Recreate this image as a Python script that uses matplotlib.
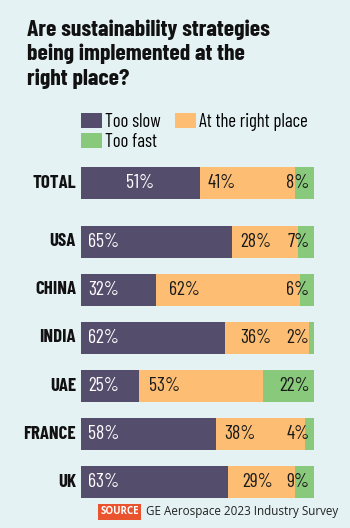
import numpy as np
import matplotlib
matplotlib.use("Agg")
import matplotlib.pyplot as plt

# data
countries = ["TOTAL", "USA", "CHINA", "INDIA", "UAE", "FRANCE", "UK"]
too_slow = [51, 65, 32, 62, 25, 58, 63]
right_place = [41, 28, 62, 36, 53, 38, 29]
too_fast = [8, 7, 6, 2, 22, 4, 9]
series_names = ["Too slow", "At the right place", "Too fast"]

title = "Are sustainability strategies\nbeing implemented at the\nright place?"
source_tag = "SOURCE"
source_text = "GE Aerospace 2023 Industry Survey"

# styling
BG = "#E5F2F4"
C_SLOW = "#544D6B"
C_RIGHT = "#FDBE74"
C_FAST = "#88C97B"
C_SRC = "#E9532D"
NARROW = ["Barlow Condensed", "DejaVu Sans"]

W, H = 350, 528
fig = plt.figure(figsize=(W / 100, H / 100), dpi=100, facecolor=BG)


def px(x, y):
    # pixel (from top-left) -> figure fraction
    return x / W, 1 - y / H


# bar area in pixels
bx0, bx1 = 81, 314
by0, by1 = 167, 498
ax = fig.add_axes([bx0 / W, 1 - by1 / H, (bx1 - bx0) / W, (by1 - by0) / H])
ax.set_facecolor(BG)

ypos = np.array([0.0] + [59 / 48 + i for i in range(len(countries) - 1)])
bh = 32 / 48
slow = np.array(too_slow)
right = np.array(right_place)
fast = np.array(too_fast)

b1 = ax.barh(ypos, slow, height=bh, color=C_SLOW, label=series_names[0])
b2 = ax.barh(ypos, right, left=slow, height=bh, color=C_RIGHT, label=series_names[1])
b3 = ax.barh(ypos, fast, left=slow + right, height=bh, color=C_FAST, label=series_names[2])

ax.set_xlim(0, 100)
ax.set_ylim(ypos[-1] + bh / 2, ypos[0] - bh / 2)
ax.axis("off")

pxu = 100 / (bx1 - bx0)  # data units per pixel
mid_off = [8, 8, 13, 15, 10, 8, 14]  # px offset of middle label from segment start
lab_fs = 14
for i, y in enumerate(ypos):
    if i == 0:
        ax.text(slow[i] / 2, y, f"{slow[i]}%", color="white", ha="center",
                va="center", fontsize=lab_fs, family=NARROW)
    else:
        ax.text(7 * pxu, y, f"{slow[i]}%", color="white", ha="left",
                va="center", fontsize=lab_fs, family=NARROW)
    ax.text(slow[i] + mid_off[i] * pxu, y, f"{right[i]}%", color="#1a1a1a",
            ha="left", va="center", fontsize=lab_fs, family=NARROW)
    ax.text(100 - 4.5 * pxu, y, f"{fast[i]}%", color="#1a1a1a", ha="right",
            va="center", fontsize=lab_fs, family=NARROW)
    ax.text(-5 * pxu, y, countries[i], color="#111111", ha="right",
            va="center", fontsize=13.5, fontweight="bold", family=NARROW)

# title
fig.text(*px(27, 19), title, ha="left", va="top", fontsize=17,
         fontweight="bold", family=NARROW, color="#111111", linespacing=1.25)

# legend: order so columns read Too slow / Too fast | At the right place
fig.legend([b1, b3, b2], [series_names[0], series_names[2], series_names[1]],
           ncol=2, loc="upper left", bbox_to_anchor=px(81, 113),
           frameon=False, prop={"family": NARROW, "size": 13.5},
           handlelength=1.12, handleheight=0.8, handletextpad=0.16,
           columnspacing=0.75, labelspacing=0.1, borderpad=0,
           borderaxespad=0)

# source line
fig.text(*px(139, 512), source_tag, ha="right", va="center", fontsize=7,
         fontweight="bold", color="white", family="Open Sans",
         bbox=dict(boxstyle="square,pad=0.25", fc=C_SRC, ec="none"))
fig.text(*px(146, 512), source_text, ha="left", va="center", fontsize=8.4,
         color="#222222", family="Open Sans")

fig.savefig("out.png", dpi=100, facecolor=BG)
